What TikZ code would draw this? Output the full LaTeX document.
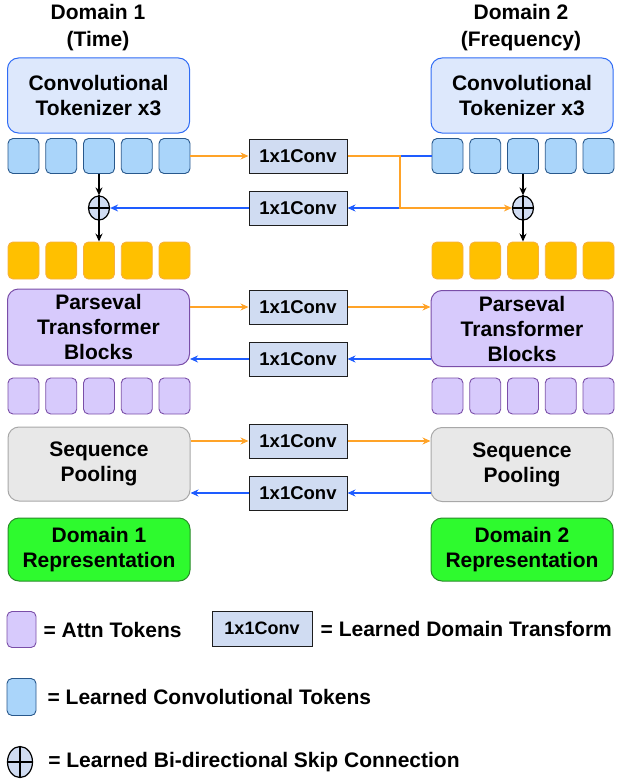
\documentclass[tikz,border=0pt]{standalone}
\usepackage{fontspec}
\setmainfont{Liberation Sans}
\usetikzlibrary{arrows.meta,positioning,calc,shapes.geometric}
\definecolor{tokfill}{RGB}{221,232,252}
\definecolor{tokedge}{RGB}{48,108,245}
\definecolor{ctokfill}{RGB}{170,213,250}
\definecolor{ctokedge}{RGB}{40,88,140}
\definecolor{otokfill}{RGB}{255,192,0}
\definecolor{otokedge}{RGB}{246,176,64}
\definecolor{parfill}{RGB}{215,202,252}
\definecolor{paredge}{RGB}{122,78,168}
\definecolor{poolfill}{RGB}{232,232,232}
\definecolor{pooledge}{RGB}{168,168,168}
\definecolor{repfill}{RGB}{46,250,46}
\definecolor{repedge}{RGB}{40,140,40}
\definecolor{convfill}{RGB}{208,220,242}
\definecolor{convedge}{RGB}{30,30,30}
\definecolor{linkorange}{RGB}{255,163,40}
\definecolor{linkblue}{RGB}{30,92,255}

\begin{document}
\begin{tikzpicture}[x=1pt,y=-1pt,>={Stealth[length=8pt,width=7pt]},
  font=\fontsize{21}{25}\selectfont\bfseries,
  bigbox/.style={rounded corners=11pt,minimum width=182pt,minimum height=75pt,align=center,line width=1pt,inner sep=0pt},
  tok/.style={rounded corners=5pt,minimum width=31pt,minimum height=35pt,line width=0.9pt,inner sep=0pt},
  convbox/.style={draw=convedge,fill=convfill,minimum width=98pt,minimum height=34pt,inner sep=0pt,line width=1pt,font=\fontsize{18.5}{20}\selectfont\bfseries},
  sum/.style={draw,ellipse,fill=convfill,minimum width=21pt,minimum height=24pt,inner sep=0pt,line width=1.2pt},
  orline/.style={draw=linkorange,line width=1.6pt},
  blline/.style={draw=linkblue,line width=1.6pt},
  skipline/.style={line width=1.3pt,->}]
  \useasboundingbox (0,0) rectangle (620,784);

  % headings
  \node[align=center,font=\fontsize{21}{27}\selectfont\bfseries] (head1) at (98,28) {Domain 1\\(Time)};
  \node[align=center,font=\fontsize{21}{27}\selectfont\bfseries] (head2) at (521,28) {Domain 2\\(Frequency)};

  % tokenizers
  \node[bigbox,draw=tokedge,fill=tokfill] (ltokz) at (98.5,95.5) {Convolutional\\Tokenizer x3};
  \node[bigbox,draw=tokedge,fill=tokfill] (rtokz) at (522,95.5) {Convolutional\\Tokenizer x3};

  % token rows
  \foreach \i in {1,...,5} {
    \node[tok,draw=ctokedge,fill=ctokfill] (lc\i) at ({23.5+(\i-1)*37.75},156) {};
    \node[tok,draw=ctokedge,fill=ctokfill] (rc\i) at ({447.5+(\i-1)*37.75},156) {};
    \node[tok,draw=otokedge,fill=otokfill,minimum height=37pt] (lo\i) at ({23.5+(\i-1)*37.75},260.5) {};
    \node[tok,draw=otokedge,fill=otokfill,minimum height=37pt] (ro\i) at ({447.5+(\i-1)*37.75},260.5) {};
    \node[tok,draw=paredge,fill=parfill,minimum height=36pt] (lp\i) at ({23.5+(\i-1)*37.75},396) {};
    \node[tok,draw=paredge,fill=parfill,minimum height=36pt] (rp\i) at ({447.5+(\i-1)*37.75},396) {};
  }

  % skip sums
  \node[sum] (lsum) at (lc3 |- 0,208) {};
  \node[sum] (rsum) at (rc3 |- 0,208) {};
  \draw[line width=1.1pt] (lsum.north) -- (lsum.south) (lsum.west) -- (lsum.east);
  \draw[line width=1.1pt] (rsum.north) -- (rsum.south) (rsum.west) -- (rsum.east);

  % middle blocks
  \node[bigbox,draw=paredge,fill=parfill,minimum height=76pt] (lpar) at (98.5,327) {Parseval\\Transformer\\Blocks};
  \node[bigbox,draw=paredge,fill=parfill,minimum height=76pt] (rpar) at (522,328.5) {Parseval\\Transformer\\Blocks};
  \node[bigbox,draw=pooledge,fill=poolfill,minimum height=74pt] (lpool) at (99,464) {Sequence\\Pooling};
  \node[bigbox,draw=pooledge,fill=poolfill,minimum height=74pt] (rpool) at (522,464.5) {Sequence\\Pooling};
  \node[bigbox,draw=repedge,fill=repfill,minimum height=63pt] (lrep) at (99,549.5) {Domain 1\\Representation};
  \node[bigbox,draw=repedge,fill=repfill,minimum height=63pt] (rrep) at (522,549.5) {Domain 2\\Representation};

  % domain transforms
  \node[convbox] (conv1) at (298,156) {1x1Conv};
  \node[convbox] (conv2) at (298,208) {1x1Conv};
  \node[convbox] (conv3) at (298,307) {1x1Conv};
  \node[convbox] (conv4) at (298,359) {1x1Conv};
  \node[convbox] (conv5) at (298,441) {1x1Conv};
  \node[convbox] (conv6) at (298,493) {1x1Conv};

  % skip connection wiring
  \coordinate (jog) at (400,208);
  \draw[blline] (rc1.west) -| (jog);
  \draw[blline,->] (jog) -- (conv2.east);
  \draw[blline,->] (conv2.west) -- (lsum.east);
  \draw[orline,->] (lc5.east |- conv1.west) -- (conv1.west);
  \draw[orline,->] (conv1.east) -| (jog) -- (rsum.west);
  \draw[skipline] (lc3.south) -- (lsum.north);
  \draw[skipline] (lsum.south) -- (lo3.north);
  \draw[skipline] (rc3.south) -- (rsum.north);
  \draw[skipline] (rsum.south) -- (ro3.north);

  % block links
  \draw[orline,->] (lpar.east |- conv3.west) -- (conv3.west);
  \draw[orline,->] (conv3.east) -- (rpar.west |- conv3.east);
  \draw[blline,->] (rpar.west |- conv4.east) -- (conv4.east);
  \draw[blline,->] (conv4.west) -- (lpar.east |- conv4.west);
  \draw[orline,->] (lpool.east |- conv5.west) -- (conv5.west);
  \draw[orline,->] (conv5.east) -- (rpool.west |- conv5.east);
  \draw[blline,->] (rpool.west |- conv6.east) -- (conv6.east);
  \draw[blline,->] (conv6.west) -- (lpool.east |- conv6.west);

  % legend
  \node[tok,draw=paredge,fill=parfill,minimum width=29pt,minimum height=36pt] (legatt) at (21.5,629.5) {};
  \node[right=7pt of legatt,inner sep=0pt] (legatttxt) {= Attn Tokens};
  \node[convbox,minimum width=100pt,minimum height=35pt,font=\fontsize{18}{20}\selectfont\bfseries] (legconv) at (262,628.5) {1x1Conv};
  \node[right=8pt of legconv,inner sep=0pt] (legconvtxt) {= Learned Domain Transform};
  \node[tok,draw=ctokedge,fill=ctokfill,minimum width=29pt,minimum height=37pt] (legctok) at (21.5,697) {};
  \node[right=11pt of legctok,inner sep=0pt] (legctoktxt) {= Learned Convolutional Tokens};
  \node[sum,minimum width=25pt,minimum height=31pt] (legsum) at (20,762) {};
  \draw[line width=1.1pt] (legsum.north) -- (legsum.south) (legsum.west) -- (legsum.east);
  \node[right=15pt of legsum,inner sep=0pt] (legsumtxt) {= Learned Bi-directional Skip Connection};
\end{tikzpicture}
\end{document}
